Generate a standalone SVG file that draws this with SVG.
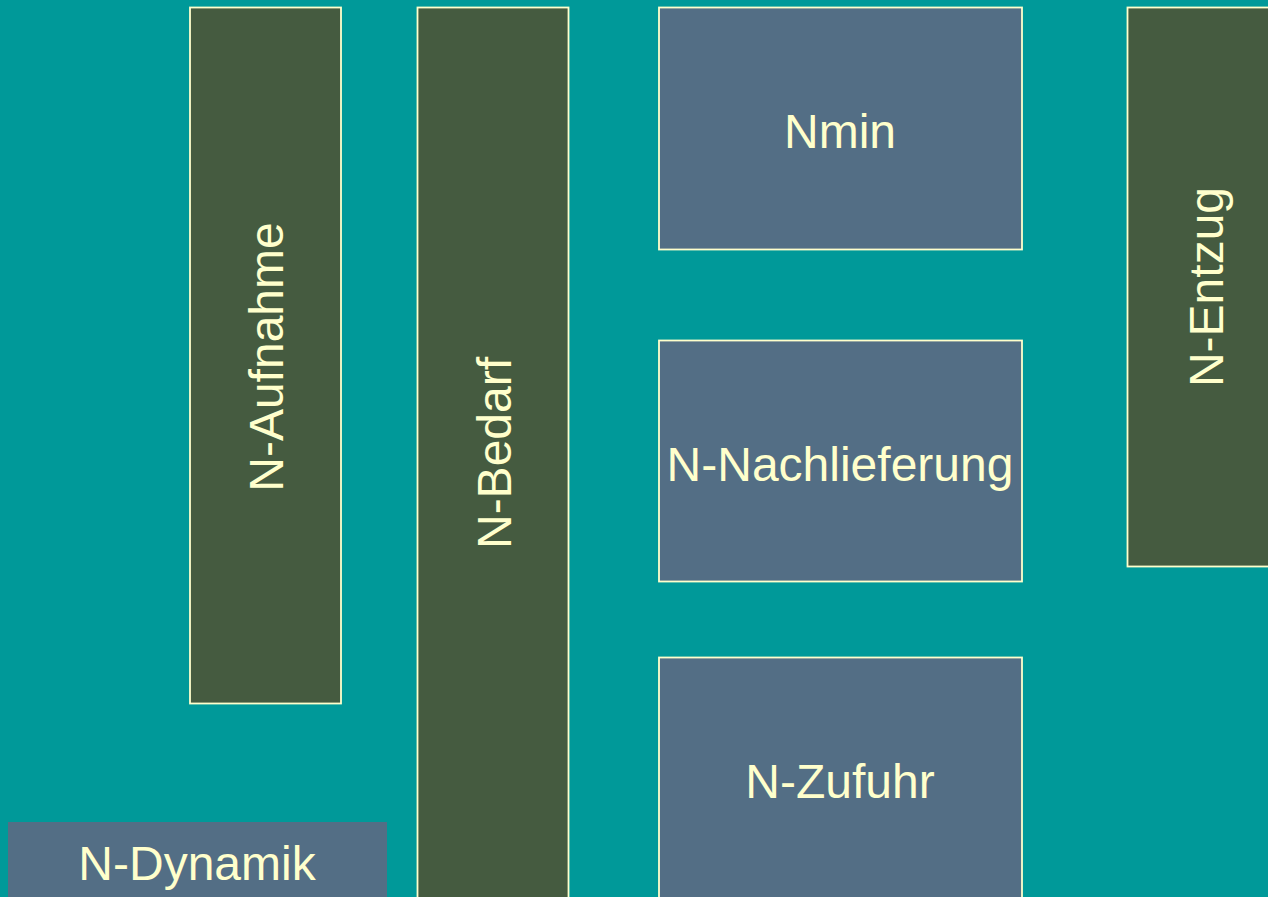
<svg xmlns="http://www.w3.org/2000/svg" width="1268" height="897" viewBox="0 0 1268 897">
<style>
.g{fill:#455B40;stroke:#FFFFCC;stroke-width:1.8}
.b{fill:#536E85;stroke:#FFFFCC;stroke-width:1.8}
.t{font-family:"Liberation Sans",Arial,sans-serif;font-size:48px;fill:#FFFFCC;text-anchor:middle}
</style>
<rect width="1268" height="897" fill="#009999"/>
<g id="n-aufnahme"><rect class="g" x="190" y="7.5" width="151" height="696"/><text class="t" transform="translate(283,357) rotate(-90)">N-Aufnahme</text></g>
<g id="n-bedarf"><rect class="g" x="417.5" y="7.5" width="151" height="900"/><text class="t" transform="translate(511,453) rotate(-90)">N-Bedarf</text></g>
<g id="nmin"><rect class="b" x="659" y="7.5" width="363" height="242"/><text class="t" x="840" y="148">Nmin</text></g>
<g id="n-nachlieferung"><rect class="b" x="659" y="340.5" width="363" height="241"/><text class="t" x="840" y="481">N-Nachlieferung</text></g>
<g id="n-zufuhr"><rect class="b" x="659" y="657.5" width="363" height="260"/><text class="t" x="840" y="798">N-Zufuhr</text></g>
<g id="n-entzug"><rect class="g" x="1127.5" y="7.5" width="170" height="559"/><text class="t" transform="translate(1223,287) rotate(-90)">N-Entzug</text></g>
<g id="n-dynamik"><rect fill="#536E85" x="8" y="822" width="379" height="80"/><text class="t" x="197" y="880">N-Dynamik</text></g>
<g id="connectors"/>
</svg>
